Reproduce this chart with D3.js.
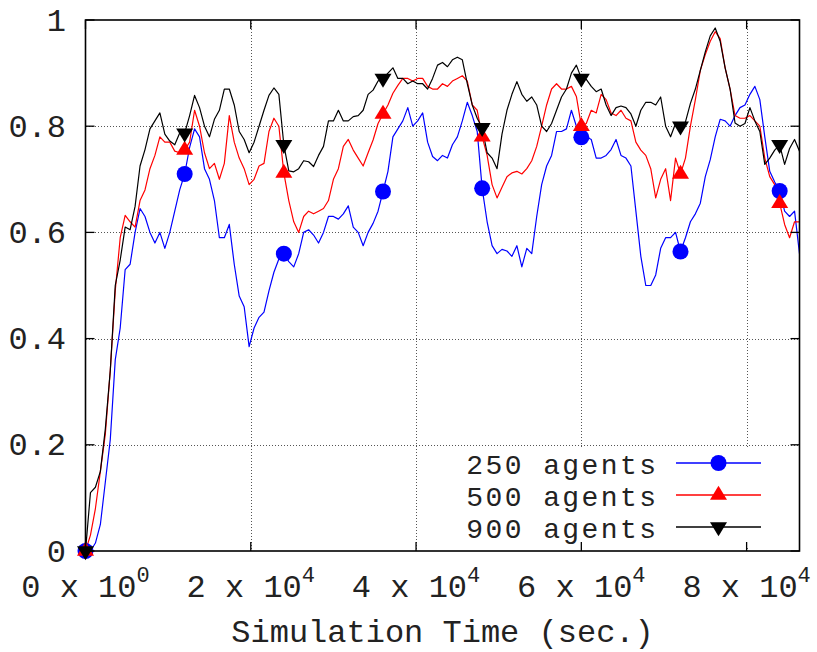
<!DOCTYPE html>
<html><head><meta charset="utf-8">
<script src="https://cdn.jsdelivr.net/npm/d3@7/dist/d3.min.js"></script>
<style>body{margin:0;background:#fff}</style>
</head><body>
<svg id="chart" width="817" height="652"></svg>
<script>
// ---- data (sampled every 600 s of simulation time) ----
const timeStep = 600;
const agents250 = [0,0,0.015,0.05,0.13,0.21,0.36,0.42,0.53,0.54,
0.60,0.645,0.63,0.60,0.58,0.60,0.57,0.60,0.64,0.68,
0.71,0.76,0.795,0.78,0.72,0.70,0.66,0.59,0.59,0.615,
0.54,0.48,0.46,0.385,0.42,0.44,0.45,0.49,0.525,0.55,
0.56,0.545,0.535,0.56,0.60,0.605,0.595,0.58,0.60,0.63,
0.63,0.625,0.635,0.65,0.61,0.60,0.575,0.60,0.617,0.64,
0.677,0.715,0.78,0.795,0.81,0.835,0.80,0.81,0.825,0.77,
0.743,0.735,0.745,0.74,0.765,0.78,0.81,0.845,0.82,0.79,
0.683,0.62,0.575,0.56,0.568,0.565,0.555,0.575,0.535,0.57,
0.56,0.63,0.69,0.725,0.745,0.79,0.79,0.795,0.83,0.80,
0.779,0.78,0.775,0.74,0.74,0.745,0.756,0.775,0.745,0.74,
0.725,0.64,0.555,0.50,0.50,0.52,0.57,0.59,0.59,0.60,
0.564,0.59,0.62,0.635,0.655,0.705,0.737,0.78,0.813,0.81,
0.80,0.82,0.835,0.84,0.86,0.875,0.85,0.78,0.715,0.695,
0.678,0.64,0.63,0.64,0.56];
const agents500 = [0,0.03,0.08,0.15,0.22,0.34,0.49,0.59,0.632,0.62,
0.61,0.66,0.68,0.72,0.745,0.78,0.77,0.77,0.753,0.75,
0.755,0.77,0.83,0.80,0.75,0.72,0.73,0.70,0.73,0.82,
0.77,0.74,0.72,0.69,0.70,0.725,0.73,0.79,0.815,0.80,
0.712,0.66,0.62,0.60,0.63,0.64,0.635,0.64,0.645,0.66,
0.70,0.72,0.762,0.775,0.755,0.74,0.725,0.75,0.774,0.805,
0.823,0.84,0.862,0.877,0.89,0.89,0.885,0.89,0.89,0.875,
0.87,0.87,0.88,0.875,0.885,0.89,0.895,0.885,0.84,0.83,
0.78,0.745,0.69,0.665,0.685,0.705,0.712,0.715,0.71,0.72,
0.735,0.762,0.80,0.84,0.87,0.88,0.87,0.87,0.875,0.856,
0.80,0.805,0.83,0.825,0.86,0.85,0.825,0.82,0.83,0.815,
0.81,0.77,0.755,0.745,0.72,0.665,0.70,0.72,0.66,0.74,
0.71,0.74,0.80,0.85,0.905,0.935,0.96,0.978,0.965,0.91,
0.87,0.82,0.815,0.815,0.82,0.81,0.80,0.74,0.705,0.69,
0.655,0.615,0.59,0.62,0.62];
const agents900 = [0,0.11,0.12,0.15,0.23,0.34,0.50,0.548,0.61,0.605,
0.649,0.725,0.756,0.795,0.81,0.825,0.785,0.772,0.765,0.787,
0.787,0.82,0.858,0.835,0.80,0.78,0.813,0.83,0.87,0.87,
0.84,0.79,0.775,0.75,0.77,0.80,0.83,0.858,0.872,0.86,
0.765,0.716,0.714,0.72,0.735,0.733,0.724,0.745,0.762,0.81,
0.81,0.83,0.81,0.81,0.818,0.82,0.83,0.86,0.868,0.885,
0.89,0.90,0.91,0.89,0.89,0.88,0.885,0.88,0.88,0.87,
0.89,0.915,0.92,0.912,0.925,0.93,0.925,0.88,0.84,0.815,
0.797,0.75,0.74,0.72,0.785,0.83,0.86,0.884,0.86,0.847,
0.855,0.84,0.80,0.79,0.805,0.83,0.855,0.87,0.90,0.915,
0.89,0.888,0.875,0.865,0.87,0.84,0.82,0.835,0.838,0.835,
0.823,0.80,0.83,0.845,0.845,0.84,0.855,0.80,0.78,0.805,
0.80,0.808,0.843,0.87,0.905,0.94,0.97,0.985,0.96,0.91,
0.87,0.806,0.80,0.805,0.835,0.81,0.79,0.728,0.74,0.755,
0.765,0.728,0.758,0.775,0.753];
const seriesNames = ["250 agents", "500 agents", "900 agents"];
const seriesColors = ["#0000ff", "#ff0000", "#000000"];
const seriesMarkers = ["circle", "triangleUp", "triangleDown"];
const markerEvery = 20;
const xMax = 86400;
const xTickValues = [0, 20000, 40000, 60000, 80000];
const xTickMantissa = ["0", "2", "4", "6", "8"];
const xTickExponent = ["0", "4", "4", "4", "4"];
const yTickValues = [0, 0.2, 0.4, 0.6, 0.8, 1];
const yTickLabels = ["0", "0.2", "0.4", "0.6", "0.8", "1"];
const xTitle = "Simulation Time (sec.)";

// ---- layout ----
const L = 85.5, R = 799.5, T = 20, B = 551;
const FONT = "'Liberation Mono', 'DejaVu Sans Mono', monospace";
const svg = d3.select("#chart");
const x = d3.scaleLinear().domain([0, xMax]).range([L, R]);
const y = d3.scaleLinear().domain([0, 1]).range([B, T]);

const series = [agents250, agents500, agents900].map((vals, i) => ({
  name: seriesNames[i], color: seriesColors[i], marker: seriesMarkers[i],
  points: vals.map((v, k) => ({t: k * timeStep, v}))
}));

// grid
const grid = svg.append("g").attr("stroke", "#555").attr("stroke-width", 1)
  .attr("stroke-dasharray", "1,2").attr("shape-rendering", "crispEdges");
xTickValues.filter(d => d > 0).forEach(d => {
  grid.append("line").attr("x1", Math.round(x(d)) + 0.5).attr("x2", Math.round(x(d)) + 0.5)
    .attr("y1", T).attr("y2", B);
});
yTickValues.filter(d => d > 0 && d < 1).forEach(d => {
  grid.append("line").attr("x1", L).attr("x2", R)
    .attr("y1", Math.round(y(d)) + 0.5).attr("y2", Math.round(y(d)) + 0.5);
});

// legend background (opaque key box)
svg.append("rect").attr("x", 455).attr("y", 448).attr("width", 335).attr("height", 98).attr("fill", "#fff");

// lines
const line = d3.line().x(d => x(d.t)).y(d => y(d.v));
svg.append("defs").append("clipPath").attr("id", "clip")
  .append("rect").attr("x", L).attr("y", T - 10).attr("width", R - L).attr("height", B - T + 20);
const plot = svg.append("g").attr("clip-path", "url(#clip)");
series.forEach(s => {
  plot.append("path").datum(s.points).attr("d", line).attr("fill", "none")
    .attr("stroke", s.color).attr("stroke-width", 1.2).attr("stroke-linejoin", "round");
});

function markerPath(type) {
  if (type === "circle") return d3.symbol(d3.symbolCircle, Math.PI * 8 * 8)();
  if (type === "triangleUp") return "M0,-9.3L8.5,4.7L-8.5,4.7Z";
  return "M0,9.3L8.5,-4.7L-8.5,-4.7Z";
}
series.forEach(s => {
  svg.append("g").selectAll("path")
    .data(s.points.filter((d, k) => k % markerEvery === 0))
    .join("path")
    .attr("d", markerPath(s.marker))
    .attr("transform", d => `translate(${x(d.t)},${y(d.v)})`)
    .attr("fill", s.color);
});

// border
svg.append("rect").attr("x", L).attr("y", T).attr("width", R - L).attr("height", B - T)
  .attr("fill", "none").attr("stroke", "#000").attr("stroke-width", 1.6);

// ticks (inward, mirrored)
const ticks = svg.append("g").attr("stroke", "#000").attr("stroke-width", 1.3);
const TL = 9;
xTickValues.forEach(d => {
  ticks.append("line").attr("x1", x(d)).attr("x2", x(d)).attr("y1", B).attr("y2", B - TL);
  ticks.append("line").attr("x1", x(d)).attr("x2", x(d)).attr("y1", T).attr("y2", T + TL);
});
yTickValues.forEach(d => {
  ticks.append("line").attr("x1", L).attr("x2", L + TL).attr("y1", y(d)).attr("y2", y(d));
  ticks.append("line").attr("x1", R).attr("x2", R - TL).attr("y1", y(d)).attr("y2", y(d));
});

// y tick labels
svg.append("g").selectAll("text").data(yTickValues).join("text")
  .attr("x", 66).attr("y", d => y(d) + 10.5)
  .attr("text-anchor", "end").attr("font-family", FONT).attr("font-size", 32).attr("fill", "#222")
  .text((d, i) => yTickLabels[i]);

// x tick labels with superscripts
xTickValues.forEach((d, i) => {
  const t = svg.append("text").attr("x", x(d)).attr("y", 597)
    .attr("text-anchor", "middle").attr("font-family", FONT).attr("font-size", 32).attr("fill", "#222");
  t.append("tspan").text(xTickMantissa[i] + " x 10");
  t.append("tspan").attr("dy", -15).attr("font-size", 22).text(xTickExponent[i]);
});

// axis title
svg.append("text").attr("x", (L + R) / 2).attr("y", 642).attr("text-anchor", "middle")
  .attr("font-family", FONT).attr("font-size", 32).attr("fill", "#222").text(xTitle);

// legend
const legendY = i => 463 + i * 32;
series.forEach((s, i) => {
  svg.append("text").attr("x", 658.4).attr("y", legendY(i) + 10.5).attr("text-anchor", "end")
    .attr("font-family", FONT).attr("font-size", 28).attr("letter-spacing", "2.4px")
    .attr("fill", "#222").text(s.name);
  svg.append("line").attr("x1", 676).attr("x2", 761).attr("y1", legendY(i)).attr("y2", legendY(i))
    .attr("stroke", s.color).attr("stroke-width", 1.3);
  svg.append("path").attr("d", markerPath(s.marker))
    .attr("transform", `translate(718.5,${legendY(i)})`).attr("fill", s.color);
});
</script>
</body></html>
